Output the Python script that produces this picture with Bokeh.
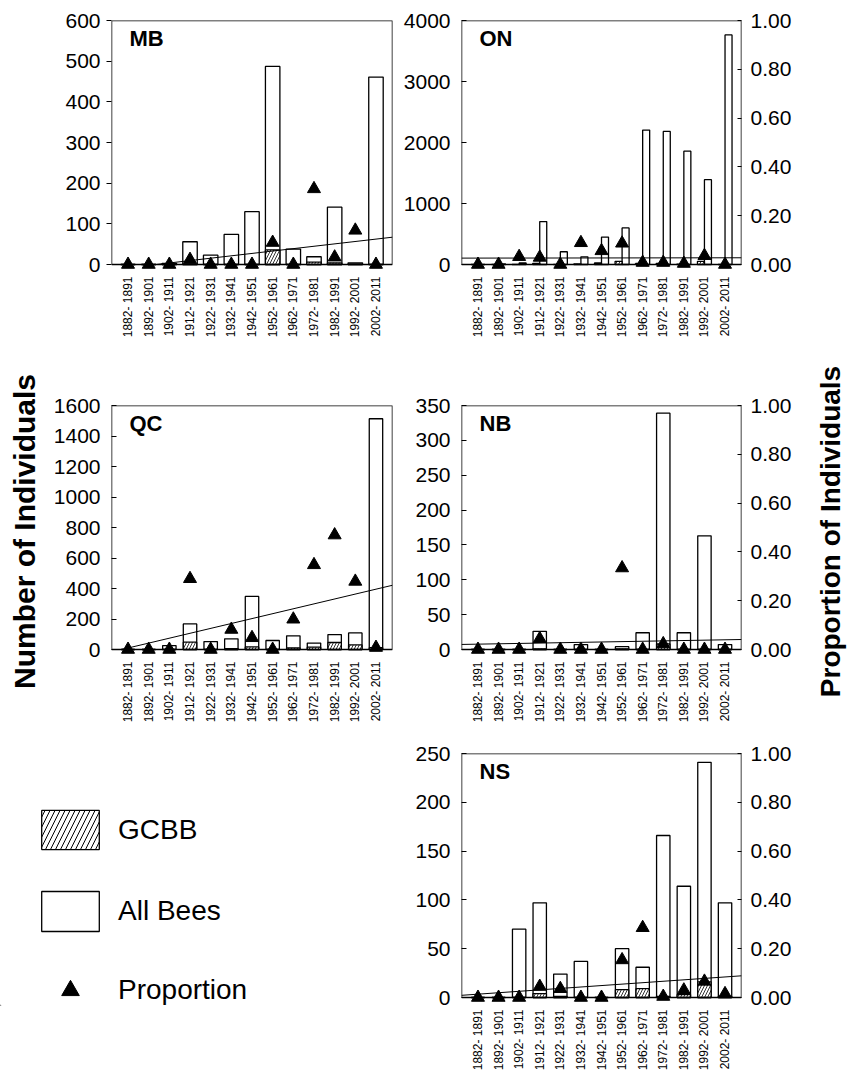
import numpy as np
from math import pi
from bokeh.plotting import figure
from bokeh.models import (Range1d, LinearAxis, FixedTicker, NumeralTickFormatter,
                          BoxAnnotation, Label, Legend, LegendItem, ColumnDataSource)
from bokeh.layouts import row, column
from bokeh.embed import file_html
from bokeh.resources import INLINE

# ---------------- data ----------------
periods = ["1882- 1891", "1892- 1901", "1902- 1911", "1912- 1921", "1922- 1931",
           "1932- 1941", "1942- 1951", "1952- 1961", "1962- 1971", "1972- 1981",
           "1982- 1991", "1992- 2001", "2002- 2011"]

mb_all = [0, 0, 3, 56, 23, 74, 130, 487, 38, 19, 141, 4, 461]
mb_gcbb = [0, 0, 0, 1, 0, 0, 0, 36, 0, 6, 4, 1, 0]
mb_prop = [0, 0, 0, 0.02, 0, 0, 0, 0.09, 0, 0.31, 0.03, 0.14, 0]

on_all = [0, 8, 25, 703, 209, 126, 450, 599, 2203, 2181, 1857, 1390, 3764]
on_gcbb = [0, 0, 1, 20, 0, 11, 25, 52, 18, 17, 7, 50, 0]
on_prop = [0, 0, 0.032, 0.029, 0, 0.089, 0.056, 0.087, 0.008, 0.008, 0.004, 0.036, 0]

qc_all = [0, 0, 26, 168, 52, 70, 348, 59, 90, 42, 98, 109, 1513]
qc_gcbb = [0, 0, 0, 48, 0, 6, 17, 0, 11, 15, 46, 30, 12]
qc_prop = [0, 0, 0, 0.29, 0, 0.082, 0.048, 0, 0.124, 0.347, 0.469, 0.279, 0.008]

nb_all = [0, 0, 0, 26, 0, 7, 0, 4, 24, 339, 24, 163, 7]
nb_gcbb = [0, 0, 0, 1, 0, 0, 0, 1, 0, 8, 0, 0, 0]
nb_prop = [0, 0, 0, 0.044, 0, 0, 0, 0.334, 0, 0.023, 0, 0, 0]

ns_all = [0, 0, 70, 97, 24, 37, 0, 50, 31, 166, 114, 241, 97]
ns_gcbb = [0, 0, 0, 4, 1, 0, 0, 8, 9, 1, 3, 16, 1]
ns_prop = [0, 0, 0, 0.045, 0.036, 0, 0, 0.154, 0.286, 0.004, 0.03, 0.066, 0.015]

prop_ticks = [0.0, 0.2, 0.4, 0.6, 0.8, 1.0]

# ---------------- styling / geometry ----------------
FONT = "Liberation Sans"
BOX_H = 244          # visible box height
EXT = 8              # room under the zero line so the triangles are not cut
X_LO, X_HI = -0.8, 12.8
LEFT = dict(width=397, bl=111, br=5)
RIGHT = dict(width=451, bl=64, br=107)
RIGHT_NARROW = dict(width=403, bl=64, br=59)   # row 2: leaves room for the title strip
TITLE_W = 48


def make_panel(code, all_bees, gcbb, prop, ymax, ystep, g, top_b, bot_b,
               tick_out=False, right_axis=True, bar_w=0.65, dodge=0.0):
    H = top_b + BOX_H + EXT + bot_b
    ext = EXT / BOX_H
    p = figure(width=g["width"], height=H, output_backend="svg", toolbar_location=None,
               x_range=Range1d(X_LO, X_HI), y_range=Range1d(-ymax * ext, ymax),
               x_axis_type=None, y_axis_type=None,
               min_border_left=g["bl"], min_border_right=g["br"],
               min_border_top=top_b, min_border_bottom=bot_b)
    p.outline_line_color = None
    p.background_fill_color = "white"
    p.extra_y_ranges = {"prop": Range1d(-ext, 1.0)}

    xs = list(range(len(periods)))
    x_all = [x + dodge for x in xs]
    x_g = [x - dodge for x in xs]
    p.vbar(x=x_all, top=all_bees, bottom=0, width=bar_w, fill_color="white",
           line_color="black", line_width=1.3)
    p.vbar(x=x_g, top=gcbb, bottom=0, width=bar_w, fill_color="white",
           hatch_pattern="/", hatch_color="black", hatch_scale=6, hatch_weight=0.8,
           line_color="black", line_width=1.3)

    # linear trend of the proportion
    b, a = np.polyfit(xs, prop, 1)
    x0, x1 = X_LO, X_HI
    if a + b * x0 < 0 and b > 0:
        x0 = -a / b
    p.line([x0, x1], [a + b * x0, a + b * x1], y_range_name="prop",
           line_color="black", line_width=1)

    p.scatter(xs, prop, marker="triangle", size=13, color="black", y_range_name="prop")

    p.add_layout(BoxAnnotation(bottom=0, top=ymax, fill_color=None, fill_alpha=0,
                               line_color="black", line_alpha=1.0, line_width=1.5))

    yax = LinearAxis(ticker=FixedTicker(ticks=list(range(0, ymax + 1, ystep))),
                     axis_line_color=None, minor_tick_line_color=None,
                     major_tick_in=0 if tick_out else 5, major_tick_out=5 if tick_out else 0,
                     major_label_standoff=6 if tick_out else 11,
                     major_label_text_font=FONT, major_label_text_font_size="21px",
                     major_label_text_color="black")
    p.add_layout(yax, "left")

    xax = LinearAxis(ticker=FixedTicker(ticks=xs),
                     major_label_overrides={i: s for i, s in enumerate(periods)},
                     major_label_orientation=pi / 2, axis_line_color=None,
                     major_tick_line_color=None, minor_tick_line_color=None,
                     major_tick_in=0, major_tick_out=0, major_label_standoff=4,
                     major_label_text_font=FONT, major_label_text_font_size="12px",
                     major_label_text_color="black")
    p.add_layout(xax, "below")

    if right_axis:
        rax = LinearAxis(y_range_name="prop", ticker=FixedTicker(ticks=prop_ticks),
                         formatter=NumeralTickFormatter(format="0.00"),
                         axis_line_color=None, minor_tick_line_color=None,
                         major_tick_in=4, major_tick_out=0, major_label_standoff=9,
                         major_label_text_font=FONT, major_label_text_font_size="21px",
                         major_label_text_color="black")
        p.add_layout(rax, "right")

    p.add_layout(Label(x=18, y=BOX_H + EXT - 5, x_units="screen", y_units="screen",
                       text=code, text_font=FONT, text_font_size="22px",
                       text_font_style="bold", text_baseline="top", text_align="left",
                       text_color="black"))
    return p, yax


mb, _ = make_panel("MB", mb_all, mb_gcbb, mb_prop, 600, 100, LEFT, 20, 90,
                   tick_out=True, right_axis=False, bar_w=0.7)
on, _ = make_panel("ON", on_all, on_gcbb, on_prop, 4000, 1000, RIGHT, 20, 90,
                   bar_w=0.34, dodge=0.17)
qc, qc_y = make_panel("QC", qc_all, qc_gcbb, qc_prop, 1600, 200, LEFT, 43, 80,
                      right_axis=False)
nb, _ = make_panel("NB", nb_all, nb_gcbb, nb_prop, 350, 50, RIGHT_NARROW, 43, 80)
ns, _ = make_panel("NS", ns_all, ns_gcbb, ns_prop, 250, 50, RIGHT, 16, 70)


def style_title(ax, text, standoff, size):
    ax.axis_label = text
    ax.axis_label_standoff = standoff
    ax.axis_label_text_font = FONT
    ax.axis_label_text_font_size = size
    ax.axis_label_text_font_style = "bold"
    ax.axis_label_text_color = "black"


# left title: the QC axis label
style_title(qc_y, "Number of Individuals", 10, "30px")

# right title: a thin strip to the right of NB whose (empty) left axis carries the label
tf = figure(width=TITLE_W, height=43 + BOX_H + EXT + 80, output_backend="svg",
            toolbar_location=None, x_range=Range1d(0, 1), y_range=Range1d(0, 1),
            x_axis_type=None, y_axis_type=None,
            min_border_left=TITLE_W - 1, min_border_right=0,
            min_border_top=43, min_border_bottom=80)
tf.outline_line_color = None
tf_ax = LinearAxis(ticker=FixedTicker(ticks=[]), axis_line_color=None,
                   major_tick_line_color=None, minor_tick_line_color=None,
                   major_tick_in=0, major_tick_out=0, major_label_standoff=0)
style_title(tf_ax, "Proportion of Individuals", 2, "28px")
tf.add_layout(tf_ax, "left")

# legend panel (its frame is aligned with the NS frame: y 753..1005)
lp = figure(width=397, height=16 + BOX_H + EXT + 70, output_backend="svg",
            toolbar_location=None, x_range=Range1d(0, 1), y_range=Range1d(0, 1),
            x_axis_type=None, y_axis_type=None, min_border_left=0, min_border_right=0,
            min_border_top=16, min_border_bottom=70)
lp.outline_line_color = None
src = ColumnDataSource(dict(x=[-10], top=[-10], y=[-10]))
r_g = lp.vbar(x="x", top="top", width=0.5, source=src, fill_color="white",
              hatch_pattern="/", hatch_color="black", hatch_scale=10, hatch_weight=1,
              line_color="black", line_width=1.3)
r_a = lp.vbar(x="x", top="top", width=0.5, source=src, fill_color="white",
              line_color="black", line_width=1.3)
r_p = lp.scatter(x="x", y="y", source=src, marker="triangle", size=18, color="black")


def add_leg(label, rend, loc, gw, gh, standoff):
    lg = Legend(items=[LegendItem(label=label, renderers=[rend])], location=loc,
                glyph_width=gw, glyph_height=gh, label_standoff=standoff,
                padding=0, margin=0, border_line_color=None, background_fill_alpha=0,
                label_text_font=FONT, label_text_font_size="28px",
                label_text_color="black")
    lp.add_layout(lg)


add_leg("GCBB", r_g, (34, 151), 72, 49, 12)
add_leg("All Bees", r_a, (34, 69), 72, 50, 12)
add_leg("Proportion", r_p, (41, -7), 58, 44, 19)

layout = column(row(mb, on), row(qc, nb, tf), row(lp, ns))

open("out.html", "w").write(file_html(layout, INLINE))
